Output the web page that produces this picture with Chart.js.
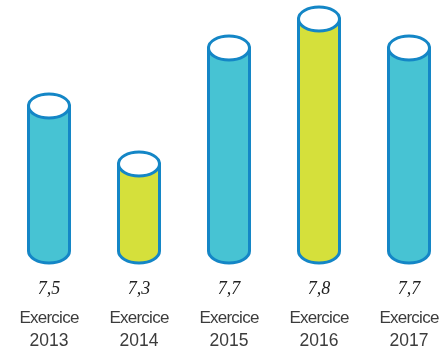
<!DOCTYPE html>
<html>
<head>
<meta charset="utf-8">
<script src="https://cdn.jsdelivr.net/npm/chart.js@4"></script>
<style>
    html, body { margin: 0; padding: 0; background: #fff; }
    #wrap { width: 440px; height: 347px; }
</style>
</head>
<body>
<div id="wrap"><canvas id="chartCylinders"></canvas></div>
<script>
const years = ['2013', '2014', '2015', '2016', '2017'];
const values = [7.5, 7.3, 7.7, 7.8, 7.7];
const barColors = ['#47c3d3', '#d5e03b', '#47c3d3', '#d5e03b', '#47c3d3'];

const strokeColor = '#1486c6';

// draws each bar as a cylinder: body, rounded bottom, open white top
const cylinderPlugin = {
    id: 'cylinders',
    afterDatasetsDraw(chart) {
        const ctx = chart.ctx;
        const meta = chart.getDatasetMeta(0);
        const xScale = chart.scales.x;
        ctx.save();
        ctx.lineWidth = 3;
        ctx.strokeStyle = strokeColor;
        meta.data.forEach(function (bar, i) {
            const rx = bar.width / 2;
            const ry = 12;
            const x = bar.x;
            const top = bar.y;
            const base = bar.base;

            ctx.beginPath();
            ctx.moveTo(x - rx, top);
            ctx.lineTo(x - rx, base);
            ctx.ellipse(x, base, rx, ry, 0, Math.PI, 0, true);
            ctx.lineTo(x + rx, top);
            ctx.closePath();
            ctx.fillStyle = barColors[i];
            ctx.fill();
            ctx.stroke();

            ctx.beginPath();
            ctx.ellipse(x, top, rx, ry, 0, 0, Math.PI * 2);
            ctx.fillStyle = '#ffffff';
            ctx.fill();
            ctx.stroke();
        });

        // labels under the cylinders
        ctx.textAlign = 'center';
        ctx.textBaseline = 'alphabetic';
        const bottom = chart.chartArea.bottom;
        years.forEach(function (year, i) {
            const x = xScale.getPixelForValue(i);
            ctx.letterSpacing = '0px';
            ctx.fillStyle = '#222';
            ctx.font = 'italic 18px "Liberation Serif", serif';
            ctx.fillText(values[i].toFixed(1).replace('.', ','), x, bottom + 43);
            ctx.fillStyle = '#3c3c3c';
            ctx.font = '17.5px "Liberation Sans", Arial, sans-serif';
            ctx.fillText(year, x, bottom + 95);
            ctx.letterSpacing = '-0.75px';
            ctx.font = '17px "Liberation Sans", Arial, sans-serif';
            ctx.fillText('Exercice', x, bottom + 72);
        });
        ctx.restore();
    }
};

let chart = new Chart(document.getElementById('chartCylinders'), {
    type: 'bar',
    data: {
        labels: years.map(function (y) { return 'Exercice ' + y; }),
        datasets: [
            {
                data: values,
                base: 7,
                backgroundColor: 'rgba(0,0,0,0)',
                borderWidth: 0,
                barThickness: 41
            }
        ]
    },
    options: {
        responsive: true,
        maintainAspectRatio: false,
        animation: false,
        layout: {
            padding: { left: 49, right: 31, top: 6, bottom: 96 }
        },
        plugins: {
            legend: { display: false },
            tooltip: { enabled: false }
        },
        scales: {
            x: {
                display: false,
                offset: false
            },
            y: {
                display: false,
                min: 7,
                max: 7.845
            }
        }
    },
    plugins: [cylinderPlugin]
});
</script>
</body>
</html>
